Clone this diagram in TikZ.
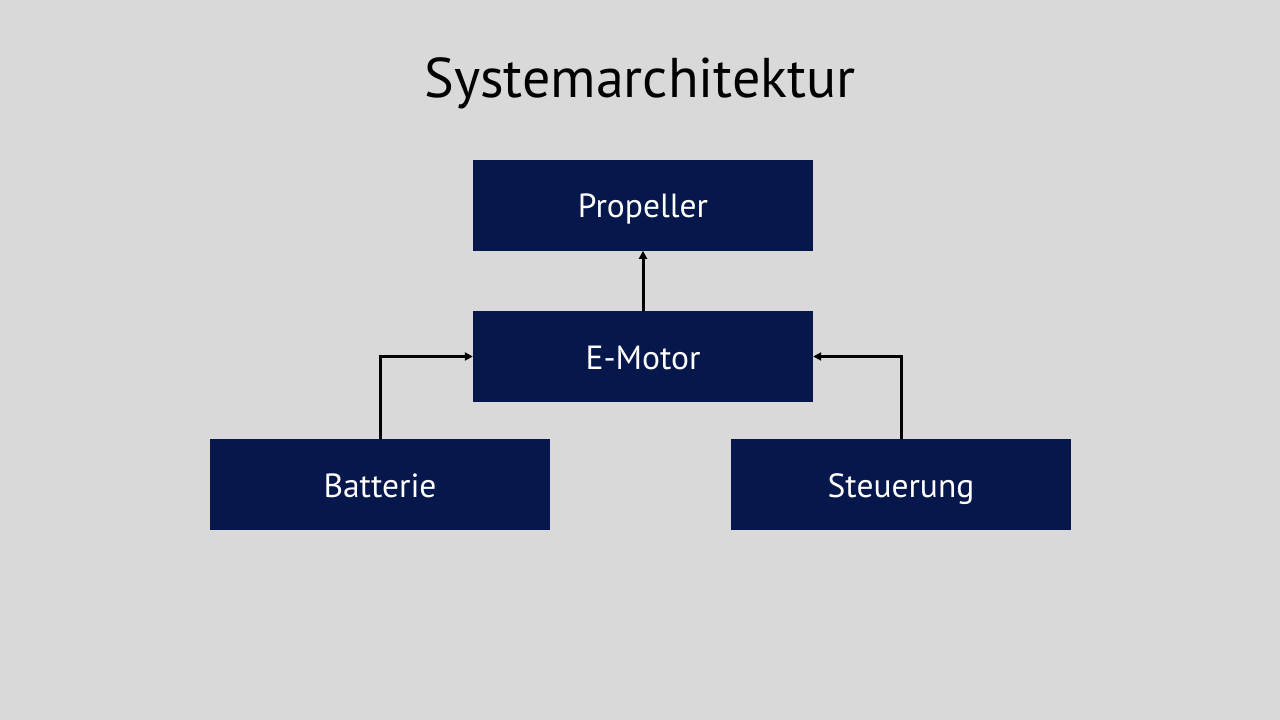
\documentclass[tikz,border=0pt]{standalone}
\usepackage{fontspec}
\setmainfont{PT Sans}
\usepackage{tikz}
\usetikzlibrary{arrows.meta,positioning}
\definecolor{archbg}{RGB}{217,217,217}
\definecolor{archnavy}{RGB}{6,23,75}
\tikzstyle{arrow} = [line width=3pt,-{Triangle[length=8pt,width=8pt]},color=black]
\tikzstyle{component} = [rectangle, minimum width=340pt, minimum height=91pt, inner sep=0pt, text height=27pt, text depth=2pt, text centered, fill=archnavy, text=white, font=\fontsize{33.5}{38}\selectfont]

\begin{document}
\begin{tikzpicture}[x=1pt,y=-1pt]
\fill[archbg] (0,0) rectangle (1280,720);
\useasboundingbox (0,0) rectangle (1280,720);
% Title
\node (title) at (640,83) {\fontsize{56}{64}\selectfont Systemarchitektur};

% Components
\node (emotor) [component] at (643,356.5) {E-Motor};
\node (propeller) [component, above=60pt of emotor] {Propeller};
\node (batterie) [component] at (380,484.5) {Batterie};
\node (steuerung) [component] at (901,484.5) {Steuerung};

% Connections
\draw[arrow] (emotor) -- (propeller);
\draw[arrow] (batterie.north) |- (emotor.west);
\draw[arrow] (steuerung.north) |- (emotor.east);
\end{tikzpicture}
\end{document}
